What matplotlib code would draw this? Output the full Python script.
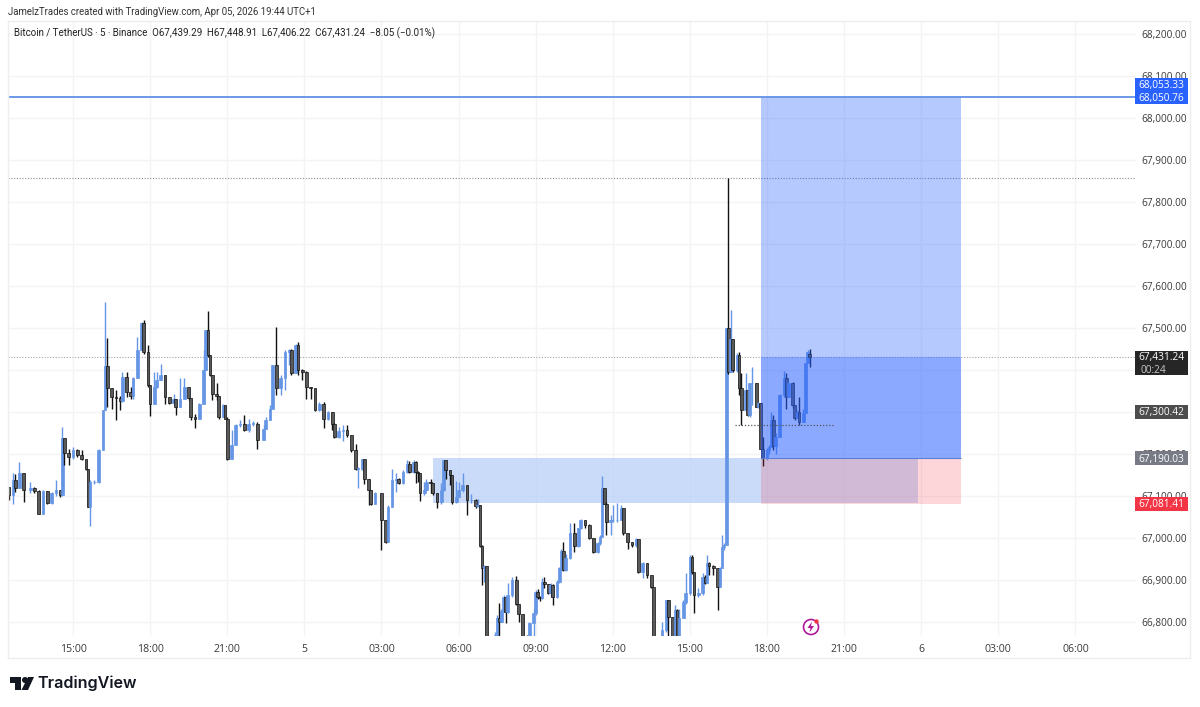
import matplotlib
matplotlib.use("Agg")
import matplotlib.pyplot as plt
from matplotlib.patches import Rectangle, Polygon, Circle
from matplotlib.transforms import blended_transform_factory, Affine2D

first_open = 67122
bar_slots = [0,2,3,5,7,10,12,14,16,18,20,22,24,25,26,28,30,32,34,36,37,38,40,42,44,45,46,48,50,52,53,55,57,58,60,62,63,65,66,68,69,71,73,75,77,78,80,82,84,85,87,89,91,92,93,94,95,97,98,100,101,102,104,106,108,110,112,114,116,119,120,122,123,125,127,129,131,132,134,135,137,139,141,143,145,147,149,151,152,154,156,158,160,162,163,165,166,168,169,171,174,176,177,179,181,
182,184,186,187,189,190,191,192,194,195,197,198,200,202,203,204,206,207,209,210,212,214,216,218,219,220,221,222,223,225,227,228,229,230,231,232,233,235,237,238,240,242,243,245,246,247,248,249,250,252,253,254,256,257,258,259,260,262,264,266,267,269,271,273,275,276,277,278,279,281,282,284,286,287,289,291,293,294,296,298,300,301,302,305,307,308,310,311,312,313,315,316,318,319,320,322,324,325,326,327,329,331,332,333,334,
335,336,337,338,340,341,342,344,345,346,347,349,350,351,352,354,355,356,357,358,360,362,363,364,366,367,368,369,371,372,373,374]
closes = [67102,67139,67120,67155,67114,67120,67111,67058,67111,67083,67106,67115,67102,67237,67203,67193,67210,67197,67189,67165,67074,67133,67133,67210,67304,67409,67356,67336,67334,67326,67384,67348,67338,67380,67447,67511,67443,67364,67320,67360,67376,67388,67336,67322,67332,67312,67332,67360,67334,67288,67284,67320,67399,67495,67435,67388,67344,67338,67288,67316,67284,67189,67221,67268,67271,67257,67272,67272,67233,67260,67280,67308,67411,67356,67380,67443,67447,67392,67459,67399,67396,67360,67356,67304,67320,67284,67300,67272,67241,67255,67257,67245,67209,67165,67165,67187,67141,67114,67082,67106,67042,66991,67074,67137,67141,
67130,67158,67176,67158,67182,67158,67154,67106,67114,67134,67130,67106,67085,67114,67186,67162,67150,67085,67098,67114,67126,67090,67090,67076,67079,66981,66928,66933,66741,66709,66769,66809,66801,66827,66860,66825,66864,66900,66844,66819,66765,66741,66798,66821,66872,66860,66856,66896,66890,66870,66888,66859,66896,66928,66969,66924,66952,67011,66981,67023,67043,67031,66999,66967,66987,67003,67118,67082,67039,67043,67043,67043,67071,67011,66991,66983,66997,66920,66941,66912,66884,66757,66725,66781,66852,66813,66757,66828,66765,66809,66848,66868,66955,66920,66864,66868,66908,66892,66940,66933,66928,66884,66928,66979,66983,
67499,67396,67475,67400,67436,67356,67305,67352,67293,67368,67368,67313,67321,67213,67190,67210,67217,67281,67220,67241,67340,67382,67336,67368,67317,67285,67301,67277,67297,67416,67444,67431.24]
highs = [67122,67155,67153,67181,67155,67133,67122,67114,67114,67104,67110,67137,67114,67264,67237,67213,67217,67213,67209,67183,67165,67137,67139,67213,67304,67561,67477,67356,67353,67338,67395,67395,67360,67384,67479,67515,67519,67459,67364,67395,67395,67414,67388,67336,67344,67332,67380,67380,67360,67312,67296,67322,67447,67495,67541,67435,67388,67368,67338,67320,67316,67288,67256,67272,67280,67292,67284,67279,67276,67268,67288,67316,67411,67503,67388,67447,67451,67449,67463,67467,67403,67397,67360,67328,67324,67324,67303,67300,67274,67264,67268,67268,67243,67225,67169,67189,67185,67141,67115,67110,67106,67042,67078,67165,67155,
67142,67163,67186,67184,67186,67184,67160,67154,67134,67140,67140,67132,67106,67130,67186,67186,67163,67150,67136,67134,67154,67124,67105,67092,67094,67079,66983,66936,66933,66741,66777,66817,66846,66832,66864,66860,66892,66908,66909,66844,66817,66769,66801,66832,66876,66878,66862,66904,66906,66888,66892,66890,66900,66931,66975,66991,66963,67035,67035,67025,67046,67043,67033,66999,66991,67007,67148,67118,67086,67055,67079,67084,67079,67071,67013,66991,66999,66997,66943,66941,66912,66884,66757,66801,66852,66852,66813,66840,66830,66832,66852,66916,66959,66959,66920,66880,66916,66912,66959,66943,66936,66928,66930,67007,66987,
67500,67857,67543,67475,67440,67444,67394,67394,67352,67370,67408,67364,67325,67321,67241,67215,67222,67301,67292,67250,67344,67398,67394,67372,67372,67317,67305,67335,67306,67416,67448,67448.91]
lows = [67090,67080,67110,67122,67085,67107,67106,67056,67056,67082,67082,67099,67098,67099,67173,67173,67189,67193,67185,67161,67074,67028,67129,67131,67209,67304,67312,67306,67280,67304,67324,67336,67330,67332,67380,67447,67439,67360,67290,67324,67356,67380,67320,67318,67316,67292,67328,67336,67328,67280,67263,67288,67320,67399,67431,67385,67328,67328,67284,67296,67284,67185,67217,67221,67264,67255,67253,67266,67213,67233,67260,67280,67308,67340,67340,67352,67411,67388,67392,67388,67376,67332,67332,67303,67303,67261,67280,67257,67239,67237,67231,67241,67205,67161,67118,67161,67129,67078,67078,67080,66971,66988,66991,67074,67110,
67129,67129,67155,67154,67155,67130,67134,67089,67102,67113,67106,67102,67071,67082,67113,67140,67126,67082,67084,67097,67110,67055,67084,67071,67075,66979,66888,66896,66700,66690,66725,66765,66765,66801,66825,66798,66821,66860,66840,66801,66757,66725,66725,66765,66817,66854,66850,66854,66880,66866,66860,66840,66856,66892,66924,66922,66922,66951,66967,66979,67021,67023,66997,66965,66965,66983,67003,67081,67007,67007,67039,67039,67043,67007,66973,66978,66978,66917,66904,66904,66882,66700,66700,66725,66777,66765,66700,66765,66700,66765,66813,66844,66864,66915,66821,66860,66864,66890,66892,66912,66912,66829,66884,66928,66971,
66983,67390,67396,67395,67396,67340,67269,67340,67290,67289,67317,67311,67310,67213,67172,67185,67200,67217,67210,67200,67241,67336,67306,67336,67310,67280,67285,67270,67285,67297,67416,67406.22]

price_ticks = [66800,66900,67000,67100,67200,67300,67400,67500,67600,67700,67800,67900,68000,68100,68200]
covered_ticks = [67300,67400]
time_slots = [30,66,102,138,174,210,246,282,318,354,390,426,462,498]
time_labels = ["15:00","18:00","21:00","5","03:00","06:00","09:00","12:00","15:00","18:00","21:00","6","03:00","06:00"]

target_price = 68050.76
alert_price = 68053.33
last_price = 67431.24
session_high = 67857
poc_price = 67269
entry_price = 67190.03
stop_price = 67081.41
line_price = 67300.42
zone_top, zone_bottom = 67190.03, 67084
zone_start_slot, zone_end_slot = 198, 424.6
pos_start_slot, pos_end_slot = 351.2, 444.6
poc_start, poc_end = 339, 386

plt.rcParams['font.family'] = ['Open Sans', 'DejaVu Sans']
W, H = 1200, 707
fig = plt.figure(figsize=(W/100, H/100), dpi=100, facecolor='white')
ax = fig.add_axes([8/W, 1-636/H, 1128/W, 615/H])
ax.set_xlim(-0.35, 526.3)
ax.set_ylim(66766.7, 68231)
for s in ax.spines.values():
    s.set_visible(False)
ax.set_axisbelow(True)
ax.grid(True, color='#f3f4f6', lw=1)
ax.yaxis.tick_right()
ax.set_yticks(price_ticks)
ax.set_yticklabels(["" if p in covered_ticks else f"{p:,.2f}" for p in price_ticks], fontsize=7.2, color='#3a3a3a')
ax.set_xticks(time_slots)
ax.set_xticklabels(time_labels, fontsize=7.6, color='#3a3a3a')
ax.tick_params(axis='both', length=0)
ax.tick_params(axis='x', pad=6)
ax.tick_params(axis='y', pad=3.6)

UP, DOWN, DOWN_FILL = '#6596e6', '#111111', '#5a5a5a'
opens = [first_open] + closes[:-1]
opens[-1] = 67439.29
for b, o, c, h, l in zip(bar_slots, opens, closes, highs, lows):
    up = c >= o
    col = UP if up else DOWN
    ax.vlines(b, min(l, o, c), max(h, o, c), color=col, lw=1.0, zorder=3)
    ax.bar(b, abs(c-o) or 1, bottom=min(o, c), width=1.25,
           color=UP if up else DOWN_FILL, edgecolor=col, lw=0.5, zorder=3)

# FVG zone (under the candles) and long position tool (over them)
ax.add_patch(Rectangle((zone_start_slot, zone_bottom), zone_end_slot-zone_start_slot, zone_top-zone_bottom,
                       fc='#a8c4f8', alpha=0.6, lw=0, zorder=2))
ax.add_patch(Rectangle((pos_start_slot, entry_price), pos_end_slot-pos_start_slot, target_price-entry_price,
                       fc='#2962ff', alpha=0.34, lw=0, zorder=4))
ax.add_patch(Rectangle((pos_start_slot, entry_price), pos_end_slot-pos_start_slot, last_price-entry_price,
                       fc='#2962ff', alpha=0.30, lw=0, zorder=4))
ax.add_patch(Rectangle((pos_start_slot, stop_price), pos_end_slot-pos_start_slot, entry_price-stop_price,
                       fc='#f23645', alpha=0.2, lw=0, zorder=4))
ax.axhline(target_price, color='#6a98e8', lw=1.4, zorder=5)
ax.axhline(last_price, color='#a8a8a8', lw=0.8, ls=(0, (1, 1.5)), zorder=2)
ax.axhline(session_high, color='#8a8a8a', lw=0.8, ls=(0, (1, 1.5)), zorder=2)
ax.hlines(poc_price, poc_start, poc_end, color='#555555', lw=0.9, ls=(0, (1, 1.5)), zorder=5)
ax.hlines(entry_price, pos_start_slot, pos_end_slot, color='#5b7fd8', lw=0.8, zorder=5)

# Right-hand price labels
tb = blended_transform_factory(ax.transAxes, ax.transData)
bx0, bw, tx = 0.9991, 0.047, 1.0225
def price_label(top, bottom, fc, text, y=None):
    ax.add_patch(Rectangle((bx0, bottom), bw, top-bottom, transform=tb, fc=fc, lw=0, clip_on=False, zorder=10))
    ax.text(tx, ((top+bottom)/2 if y is None else y) - 2, text, transform=tb, color='white', fontsize=7.3,
            ha='center', va='center', clip_on=False, zorder=11)

price_label(alert_price+42, alert_price+11, '#2962ff', f"{alert_price:,.2f}", y=alert_price+25)
price_label(target_price+14, target_price-17, '#2962ff', f"{target_price:,.2f}", y=target_price-2)
price_label(67445, 67388, '#262626', f"{last_price:,.2f}", y=67431)
ax.text(tx-0.007, 67400, "00:24", transform=tb, color='#c8c8c8', fontsize=7.3, ha='center', va='center', zorder=11, clip_on=False)
price_label(line_price+16, line_price-16, '#4d4d4d', f"{line_price:,.2f}")
price_label(entry_price+16, entry_price-16, '#787b86', f"{entry_price:,.2f}")
price_label(stop_price+16, stop_price-16, '#f23645', f"{stop_price:,.2f}")

# Header text
fig.text(8/W, 1-12/H, "JamelzTrades created with TradingView.com, Apr 05, 2026 19:44 UTC+1",
         fontsize=6.95, color='#333333', va='center', family='Roboto')
fig.text(14/W, 1-33/H, "Bitcoin / TetherUS · 5 · Binance  O67,439.29  H67,448.91  L67,406.22  C67,431.24  −8.05 (−0.01%)",
         fontsize=7.05, color='#222222', va='center', family='Roboto')

# Pane outlines, logo and icon in pixel coordinates
px = Affine2D().scale(1/W, -1/H).translate(0, 1) + fig.transFigure
for (x0, y0, x1, y1) in [(8, 21, 1190, 21), (8, 21, 8, 658), (8, 658, 1190, 658), (1190, 21, 1190, 658)]:
    fig.add_artist(plt.Line2D([x0, x1], [y0, y1], transform=px, color='#eeeeee', lw=1))
logo = '#131722'
fig.add_artist(Polygon([(10, 677), (21, 677), (21, 690), (15, 690), (15, 683), (10, 683)], transform=px, fc=logo, lw=0))
fig.add_artist(Circle((25, 680), 3.0, transform=px, fc=logo, lw=0))
fig.add_artist(Polygon([(28, 677), (34, 677), (28, 690), (21.5, 690)], transform=px, fc=logo, lw=0))
fig.text(37.5/W, 1-683.5/H, "TradingView", fontsize=11.6, fontweight='semibold', color=logo, va='center', family='Inter')

fig.add_artist(Circle((811, 627), 7.5, transform=px, fc='white', ec='#b0189a', lw=1.2))
fig.add_artist(Polygon([(812, 621.5), (807.5, 628), (810.5, 628), (809.5, 632.5), (814, 626), (811, 626)],
                       transform=px, fc='#b0189a', lw=0))
fig.add_artist(Circle((816.5, 621.5), 2.2, transform=px, fc='#f23645', lw=0))

fig.savefig("out.png", dpi=100, facecolor='white')
